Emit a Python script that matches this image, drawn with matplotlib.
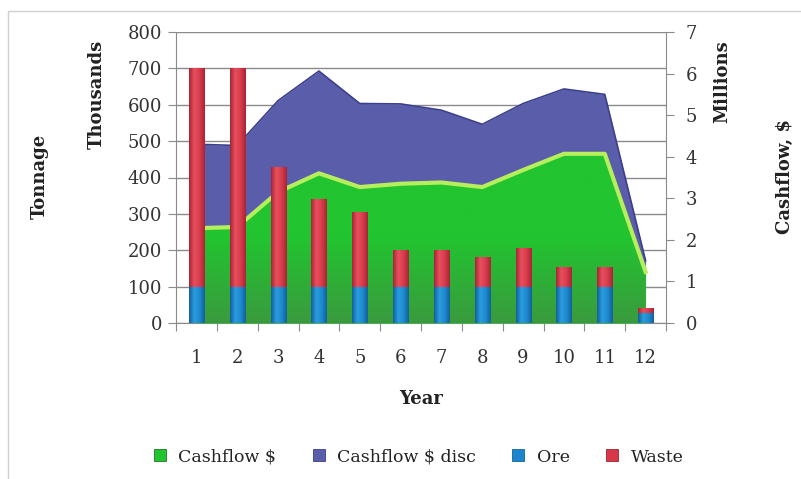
import numpy as np
import matplotlib
matplotlib.use("Agg")
import matplotlib.pyplot as plt
from matplotlib.patches import Rectangle, Polygon
from matplotlib.lines import Line2D
from matplotlib.colors import LinearSegmentedColormap

plt.rcParams['font.family'] = 'DejaVu Serif'

# data
years = [1, 2, 3, 4, 5, 6, 7, 8, 9, 10, 11, 12]
ore = [100, 100, 100, 100, 100, 100, 100, 100, 100, 100, 100, 28]          # thousand t
waste = [600, 600, 330, 242, 205, 100, 100, 81, 105, 53, 53, 12]          # thousand t
cashflow = [2.28, 2.31, 3.15, 3.60, 3.27, 3.35, 3.38, 3.27, 3.68, 4.07, 4.07, 1.23]   # $ millions
cashflow_disc = [2.02, 1.96, 2.20, 2.46, 2.01, 1.92, 1.74, 1.51, 1.60, 1.56, 1.43, 0.27]

green = '#22C430'
green_dark = '#3A9A3E'
green_light = '#B6EE5C'
purple = '#5A5DAA'
purple_dark = '#3B3F8C'
ore_col = '#1B86CC'
waste_col = '#D6384A'
grid_col = '#8A8A8A'

fig = plt.figure(figsize=(8.01, 4.79), dpi=100)

# outer frame
fig.patches.append(Rectangle((8 / 801, -0.1), 1.1, 1 - 11 / 479 + 0.1, transform=fig.transFigure,
                             fill=False, edgecolor='#D0D0D0', linewidth=1))

pos = [176 / 801, 1 - 323 / 479, (666 - 176) / 801, (323 - 32) / 479]
ax = fig.add_axes(pos)          # grid + left axis
ax2 = ax.twinx()                # cashflow areas + right axis
axb = fig.add_axes(pos, sharex=ax, sharey=ax)   # bars on top
axb.set_zorder(ax2.get_zorder() + 1)
axb.patch.set_visible(False)
axb.axis('off')

ax.set_xlim(0.5, 12.5)
ax.set_ylim(0, 800)
ax2.set_ylim(0, 7)

# gridlines at the left-axis ticks
ax.set_yticks(range(0, 801, 100))
ax.yaxis.grid(True, color=grid_col, linewidth=1)
ax.set_axisbelow(True)

# stacked cashflow areas
x = np.array(years)
cf = np.array(cashflow)
top = cf + np.array(cashflow_disc)
ax2.fill_between(x, cf, top, color=purple, linewidth=0, zorder=2)
ax2.plot(x, top, color=purple_dark, linewidth=1.2, zorder=3)

ax2.fill_between(x, 0, cf, color=green, linewidth=0, zorder=2)
# darker gradient toward the bottom of the green area
grad = np.linspace(0, 1, 256).reshape(-1, 1)
cmap = LinearSegmentedColormap.from_list('g', [green_dark, green, green])
im = ax2.imshow(grad, extent=[x[0], x[-1], 0, cf.max()], origin='lower', cmap=cmap,
                aspect='auto', zorder=2.5)
verts = np.vstack([np.column_stack([x, cf]), [[x[-1], 0], [x[0], 0]]])
clip = Polygon(verts, closed=True, transform=ax2.transData, facecolor='none', edgecolor='none')
ax2.add_patch(clip)
im.set_clip_path(clip)
ax2.plot(x, cf, color=green_light, linewidth=3, zorder=3)
ax2.set_xlim(0.5, 12.5)

# stacked bars with a cylinder-like shading
w = 0.37
b1 = axb.bar(years, ore, width=w, color=ore_col, edgecolor='#15649A', linewidth=0.5, zorder=3)
b2 = axb.bar(years, waste, bottom=ore, width=w, color=waste_col, edgecolor='#A02232', linewidth=0.5, zorder=3)
hgrad = np.linspace(0, 1, 64).reshape(1, -1)
for bars, cols in [(b1, ['#13609A', '#2A9CE0', '#1E8AD0', '#13609A']),
                   (b2, ['#A82436', '#E8505E', '#D83C4C', '#A82436'])]:
    cm = LinearSegmentedColormap.from_list('b', cols)
    for p in bars:
        x0, y0 = p.get_x(), p.get_y()
        g = axb.imshow(hgrad, extent=[x0, x0 + p.get_width(), y0, y0 + p.get_height()],
                       cmap=cm, aspect='auto', zorder=3.5)
        g.set_clip_path(p)
axb.set_xlim(0.5, 12.5)
axb.set_ylim(0, 800)

# axes styling
for s in ['top', 'right']:
    ax.spines[s].set_visible(False)
for s in ['top', 'left']:
    ax2.spines[s].set_visible(False)
ax.spines['left'].set_color(grid_col)
ax.spines['bottom'].set_color(grid_col)
ax2.spines['right'].set_color(grid_col)
ax2.spines['bottom'].set_visible(False)

ax.set_xticks(np.arange(0.5, 12.6, 1))
ax.set_xticklabels([])
ax.set_xticks(years, minor=True)
ax.set_xticklabels([str(y) for y in years], minor=True, fontsize=13, color='#333333')
ax.tick_params(axis='x', which='major', length=6, color=grid_col, direction='out')
ax.tick_params(axis='x', which='minor', length=0, pad=19)
ax.tick_params(axis='y', length=6, color=grid_col, labelsize=13, labelcolor='#333333', pad=4)
ax2.set_yticks(range(0, 8))
ax2.tick_params(axis='y', length=6, color=grid_col, labelsize=13, labelcolor='#333333', pad=8)

ax.set_xlabel('Year', fontsize=13, fontweight='bold', labelpad=16, color='#222222')

lab = dict(fontsize=13, fontweight='bold', rotation=90, ha='center', va='center', color='#222222')
fig.text(40 / 801, 1 - 176 / 479, 'Tonnage', **lab)
fig.text(97 / 801, 1 - 94 / 479, 'Thousands', **lab)
fig.text(722 / 801, 1 - 82 / 479, 'Millions', **lab)
fig.text(785 / 801, 1 - 177 / 479, 'Cashflow, $', **lab)

handles = [Line2D([], [], marker='s', linestyle='none', markersize=9, markerfacecolor=c,
                  markeredgecolor=e, markeredgewidth=0.6)
           for c, e in [(green, '#1E7A26'), (purple, purple_dark), (ore_col, '#15649A'), (waste_col, '#A02232')]]
fig.legend(handles, ['Cashflow $', 'Cashflow $ disc', 'Ore', 'Waste'], loc='center',
           bbox_to_anchor=(413 / 801, 1 - 457 / 479), ncol=4, frameon=False, fontsize=12.5,
           handletextpad=0.05, columnspacing=1.45, labelcolor='#222222')

fig.savefig('out.png', dpi=100)
